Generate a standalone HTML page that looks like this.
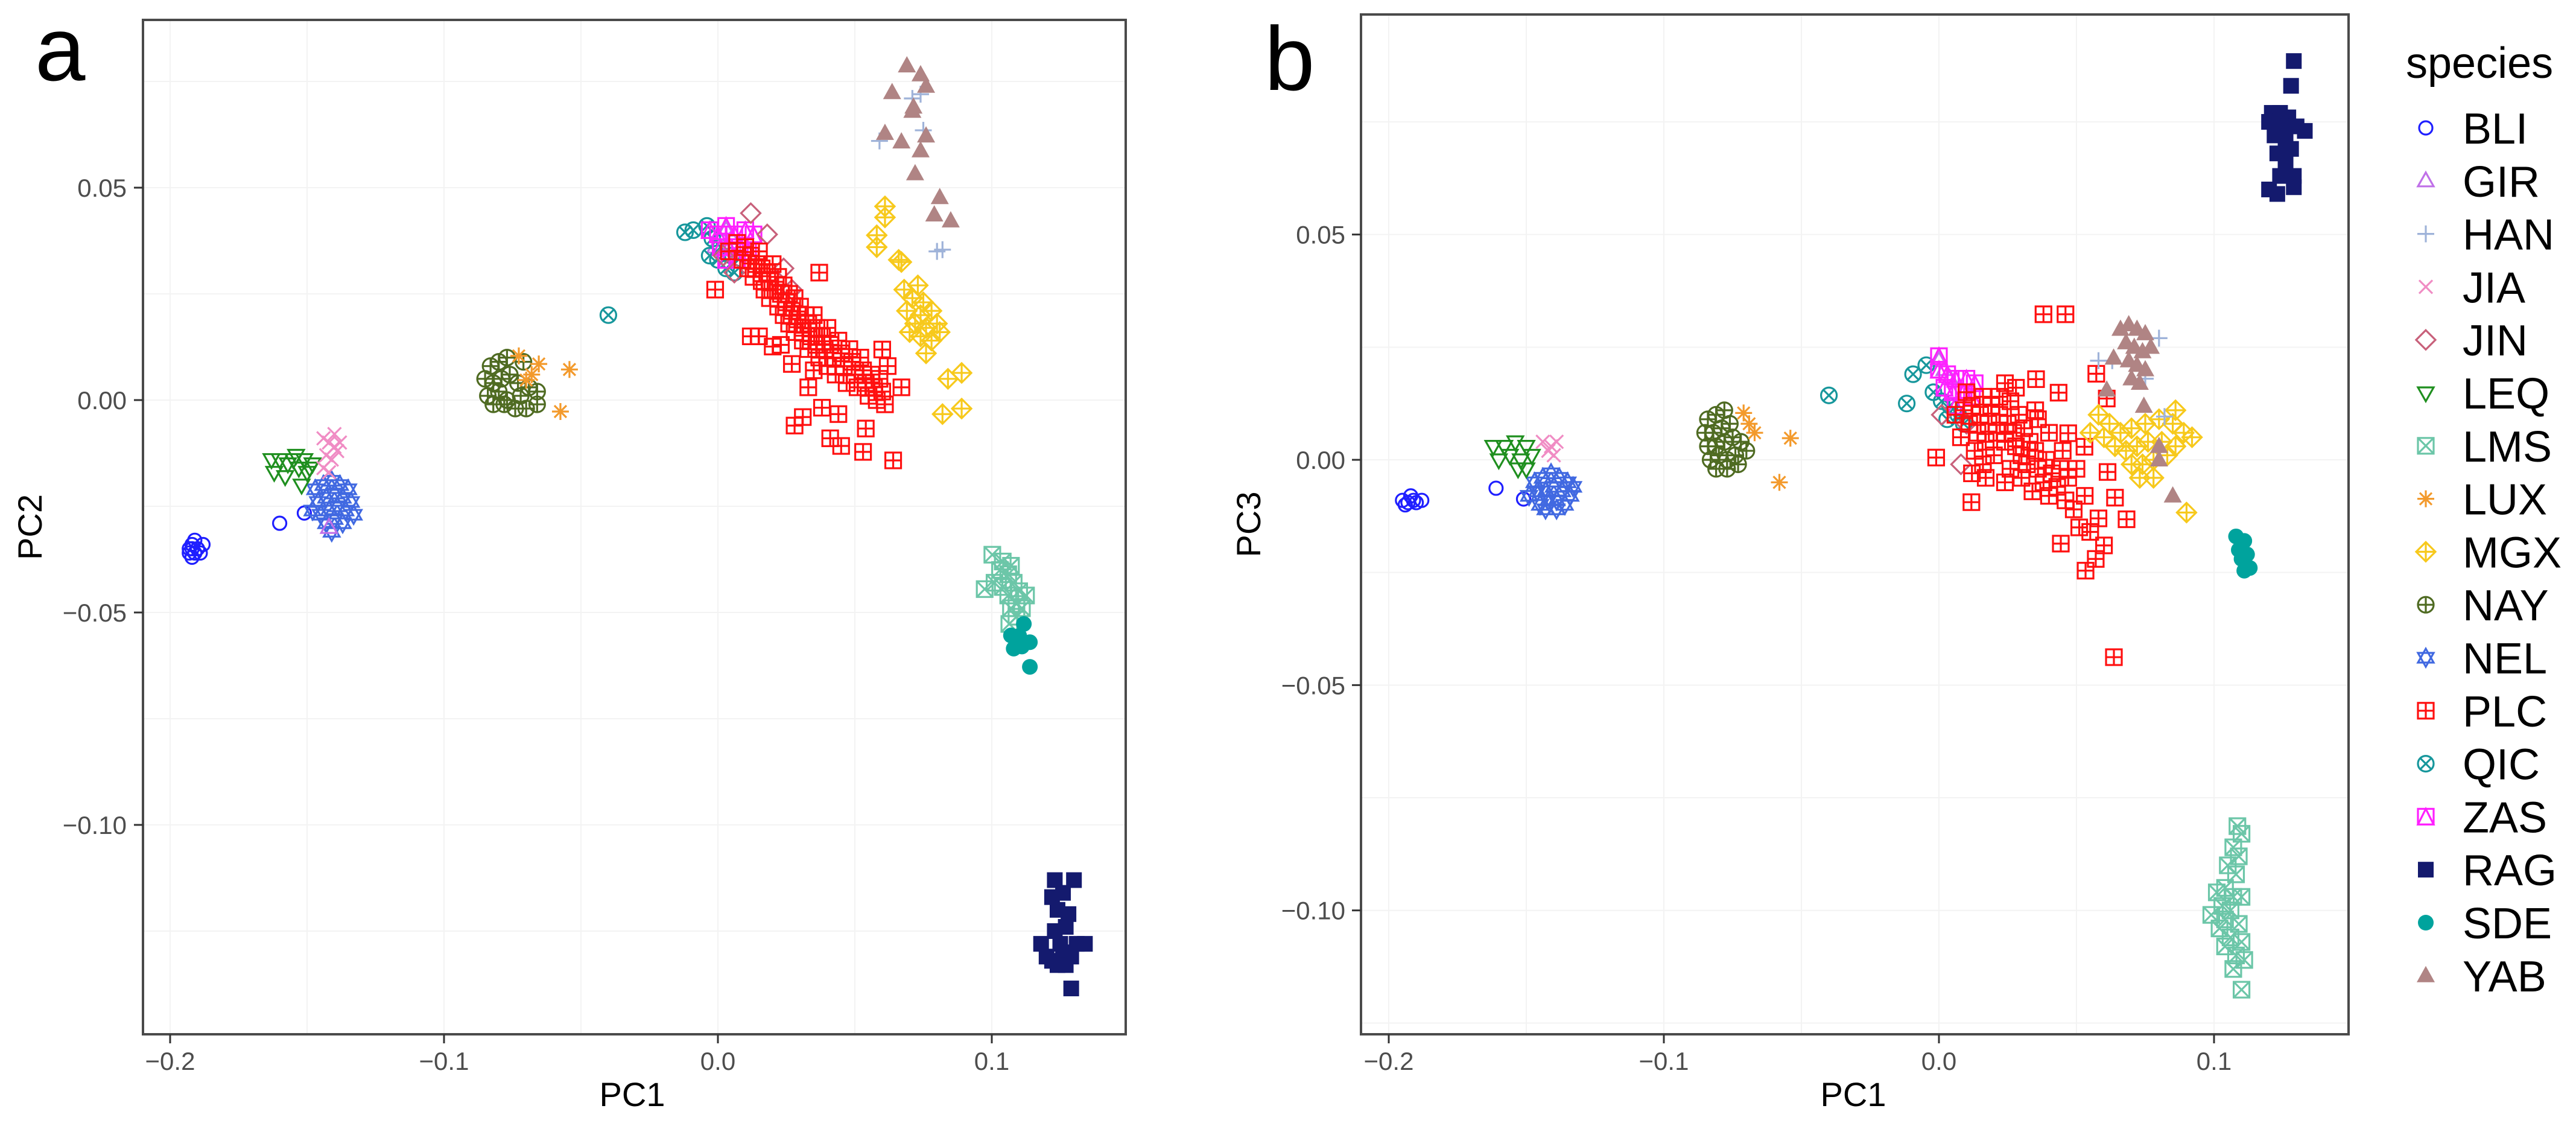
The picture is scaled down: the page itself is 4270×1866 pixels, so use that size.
<!DOCTYPE html>
<html><head><meta charset="utf-8">
<style>
html,body{margin:0;padding:0;background:#fff;}
svg{display:block;}
text{font-family:"Liberation Sans",Arial,sans-serif;}
</style></head>
<body>
<svg id="chart" width="4270" height="1866" viewBox="0 0 4270 1866" xmlns="http://www.w3.org/2000/svg">
<rect x="0" y="0" width="4270" height="1866" fill="#fff"/>
<defs>
<clipPath id="clipA"><rect x="237" y="33" width="1629" height="1681"/></clipPath>
<clipPath id="clipB"><rect x="2256" y="24" width="1637" height="1690"/></clipPath>
</defs>
</svg>
<script>
// ---- data: species / categories ----
const species = ["BLI","GIR","HAN","JIA","JIN","LEQ","LMS","LUX","MGX","NAY","NEL","PLC","QIC","ZAS","RAG","SDE","YAB"];
const speciesShapes = [1,2,3,4,5,6,7,8,9,10,11,12,13,14,15,16,17];
const speciesColors = ["#1f1fff","#c070e8","#9fb3d9","#f08cc4","#c8607a","#1f8f1f","#6cc6a8","#f39a2c","#f7c91c","#4f6b22","#4169e1","#ff1010","#17979c","#ff20ff","#141a6e","#00a39d","#b08484"];
const drawOrder = ["BLI","NEL","LEQ","JIA","GIR","NAY","LUX","QIC","ZAS","JIN","PLC","MGX","HAN","YAB","LMS","SDE","RAG"];

// ---- tick data ----
const xTicks = [-0.2,-0.1,0.0,0.1];
const xTickLabels = ["\u22120.2","\u22120.1","0.0","0.1"];
const yTicks = [0.05,0.0,-0.05,-0.10];
const yTickLabels = ["0.05","0.00","\u22120.05","\u22120.10"];
const xMinor = [-0.15,-0.05,0.05];
const yMinor = [0.075,0.025,-0.025,-0.075,-0.125];

// ---- panel a (PC1 vs PC2) ----
const a_BLI = [[-0.192,-0.034],[-0.193,-0.036],[-0.192,-0.037],[-0.191,-0.033],[-0.190,-0.035],[-0.188,-0.034],[-0.193,-0.035],[-0.191,-0.036],[-0.189,-0.036],[-0.192,-0.035],[-0.160,-0.029],[-0.151,-0.0266]];
const a_GIR = [[-0.142,-0.030],[0.003,0.040],[0.005,0.038],[-0.001,0.036]];
const a_HAN = [[0.059,0.061],[0.075,0.0635],[0.071,0.071],[0.074,0.072],[0.082,0.0354],[0.080,0.035]];
const a_JIA = [[-0.144,-0.009],[-0.142,-0.010],[-0.140,-0.011],[-0.143,-0.013],[-0.141,-0.014],[-0.139,-0.012],[-0.144,-0.016],[-0.142,-0.017],[-0.140,-0.008],[-0.138,-0.010]];
const a_JIN = [[0.012,0.044],[0.018,0.039],[0.024,0.031],[0.006,0.030],[0.027,0.026],[0.002,0.034]];
const a_LEQ = [[-0.163,-0.014],[-0.160,-0.014],[-0.157,-0.015],[-0.154,-0.013],[-0.151,-0.014],[-0.148,-0.015],[-0.162,-0.017],[-0.158,-0.018],[-0.153,-0.016],[-0.150,-0.017],[-0.152,-0.020],[-0.149,-0.016],[-0.155,-0.014]];
const a_LMS = [[0.1002,-0.0364],[0.104,-0.038],[0.107,-0.039],[0.103,-0.040],[0.106,-0.041],[0.0974,-0.0445],[0.101,-0.043],[0.104,-0.044],[0.108,-0.043],[0.110,-0.045],[0.1125,-0.046],[0.106,-0.046],[0.109,-0.048],[0.107,-0.049],[0.111,-0.049],[0.1064,-0.0527],[0.109,-0.051]];
const a_LUX = [[-0.0727,0.0104],[-0.0654,0.0085],[-0.0542,0.0072],[-0.0575,-0.0027],[-0.070,0.0047],[-0.068,0.006]];
const a_MGX = [[0.061,0.0456],[0.061,0.043],[0.058,0.0388],[0.058,0.036],[0.067,0.0325],[0.066,0.033],[0.068,0.026],[0.073,0.027],[0.071,0.024],[0.075,0.023],[0.069,0.021],[0.074,0.020],[0.078,0.021],[0.072,0.018],[0.076,0.017],[0.080,0.018],[0.070,0.016],[0.074,0.015],[0.078,0.014],[0.081,0.016],[0.076,0.011],[0.084,0.005],[0.089,0.0064],[0.082,-0.0033],[0.089,-0.002]];
const a_NAY = [[-0.083,0.008],[-0.080,0.009],[-0.077,0.010],[-0.071,0.009],[-0.085,0.005],[-0.082,0.004],[-0.079,0.005],[-0.076,0.006],[-0.073,0.004],[-0.069,0.003],[-0.066,0.002],[-0.084,0.001],[-0.080,0.002],[-0.077,0.000],[-0.072,0.001],[-0.082,-0.001],[-0.078,-0.001],[-0.074,-0.002],[-0.070,-0.002],[-0.066,-0.001]];
const a_NEL = [[-0.147,-0.021],[-0.144,-0.020],[-0.141,-0.019],[-0.138,-0.020],[-0.135,-0.021],[-0.146,-0.024],[-0.143,-0.023],[-0.140,-0.022],[-0.137,-0.023],[-0.134,-0.024],[-0.145,-0.027],[-0.142,-0.026],[-0.139,-0.025],[-0.136,-0.026],[-0.133,-0.027],[-0.143,-0.029],[-0.140,-0.028],[-0.137,-0.029],[-0.141,-0.031],[-0.148,-0.026]];
const a_PLC = [[-0.001,0.026],[0.004,0.035],[0.007,0.037],[0.009,0.033],[0.010,0.036],[0.011,0.031],[0.012,0.034],[0.013,0.029],[0.014,0.032],[0.015,0.035],[0.016,0.028],[0.016,0.031],[0.017,0.026],[0.018,0.030],[0.019,0.024],[0.019,0.028],[0.020,0.032],[0.021,0.026],[0.022,0.022],[0.022,0.029],[0.023,0.025],[0.024,0.020],[0.024,0.027],[0.025,0.023],[0.026,0.018],[0.026,0.025],[0.027,0.021],[0.028,0.016],[0.028,0.024],[0.029,0.019],[0.030,0.022],[0.031,0.017],[0.031,0.014],[0.032,0.020],[0.033,0.012],[0.033,0.018],[0.034,0.015],[0.035,0.020],[0.036,0.013],[0.036,0.017],[0.037,0.010],[0.038,0.015],[0.039,0.012],[0.040,0.008],[0.040,0.017],[0.041,0.013],[0.042,0.010],[0.043,0.006],[0.044,0.014],[0.045,0.011],[0.046,0.008],[0.047,0.004],[0.048,0.012],[0.049,0.009],[0.050,0.006],[0.051,0.003],[0.052,0.010],[0.053,0.007],[0.054,0.004],[0.055,0.001],[0.056,0.006],[0.057,0.003],[0.058,0.000],[0.059,0.005],[0.060,0.002],[0.061,-0.001],[0.060,0.0119],[0.067,0.003],[0.037,0.030],[0.012,0.015],[0.015,0.015],[0.020,0.0126],[0.023,0.013],[0.027,0.0085],[0.028,-0.006],[0.031,-0.004],[0.038,-0.0018],[0.044,-0.0033],[0.045,-0.0108],[0.041,-0.009],[0.053,-0.0122],[0.054,-0.0067],[0.064,-0.0142],[0.062,0.008],[0.033,0.003],[0.035,0.007]];
const a_QIC = [[-0.040,0.020],[-0.012,0.0395],[-0.009,0.040],[-0.004,0.041],[-0.002,0.038],[0.001,0.036],[0.000,0.033],[0.003,0.031],[0.006,0.030],[-0.003,0.034],[0.005,0.034]];
const a_ZAS = [[-0.003,0.040],[0.000,0.039],[0.003,0.041],[0.006,0.039],[0.010,0.040],[0.013,0.039],[0.001,0.036],[0.004,0.036],[0.008,0.036],[0.011,0.035],[0.003,0.033],[0.007,0.033]];
const a_RAG = [[0.123,-0.113],[0.130,-0.113],[0.122,-0.117],[0.126,-0.116],[0.124,-0.120],[0.128,-0.121],[0.127,-0.124],[0.123,-0.125],[0.118,-0.128],[0.125,-0.128],[0.131,-0.128],[0.134,-0.128],[0.120,-0.131],[0.126,-0.130],[0.129,-0.131],[0.122,-0.132],[0.127,-0.133],[0.124,-0.133],[0.129,-0.1385]];
const a_SDE = [[0.1117,-0.0527],[0.107,-0.0554],[0.110,-0.0555],[0.1139,-0.057],[0.108,-0.0585],[0.111,-0.058],[0.1139,-0.0628]];
const a_YAB = [[0.069,0.0787],[0.074,0.0766],[0.0636,0.0724],[0.0714,0.069],[0.071,0.068],[0.061,0.0628],[0.067,0.0608],[0.076,0.0622],[0.074,0.0587],[0.072,0.0533],[0.081,0.0477],[0.079,0.0436],[0.085,0.0422],[0.076,0.0739]];

// ---- panel b (PC1 vs PC3) ----
const b_BLI = [[-0.195,-0.009],[-0.193,-0.0095],[-0.191,-0.009],[-0.194,-0.010],[-0.192,-0.008],[-0.190,-0.0095],[-0.188,-0.009],[-0.161,-0.0063],[-0.151,-0.0087]];
const b_GIR = [[0.000,0.022],[0.002,0.020],[0.004,0.018]];
const b_HAN = [[0.058,0.022],[0.063,0.022],[0.080,0.027],[0.082,0.0096],[0.075,0.018]];
const b_JIA = [[-0.144,0.004],[-0.141,0.003],[-0.139,0.004],[-0.142,0.002],[-0.140,0.001]];
const b_JIN = [[0.001,0.010],[0.010,0.008],[0.008,-0.001]];
const b_LEQ = [[-0.162,0.003],[-0.158,0.003],[-0.154,0.004],[-0.150,0.003],[-0.160,0.000],[-0.156,0.001],[-0.152,0.000],[-0.148,0.001],[-0.153,-0.002],[-0.150,-0.002]];
const b_LMS = [[0.1085,-0.0813],[0.110,-0.083],[0.107,-0.086],[0.109,-0.088],[0.105,-0.090],[0.108,-0.092],[0.104,-0.095],[0.101,-0.096],[0.107,-0.097],[0.110,-0.097],[0.103,-0.099],[0.106,-0.100],[0.099,-0.101],[0.104,-0.102],[0.109,-0.103],[0.102,-0.104],[0.106,-0.106],[0.110,-0.107],[0.104,-0.108],[0.108,-0.110],[0.111,-0.111],[0.107,-0.113],[0.110,-0.1176]];
const b_LUX = [[-0.071,0.0104],[-0.054,0.0048],[-0.058,-0.005],[-0.069,0.008],[-0.067,0.006]];
const b_MGX = [[0.058,0.010],[0.062,0.008],[0.055,0.006],[0.060,0.005],[0.066,0.006],[0.070,0.007],[0.075,0.008],[0.080,0.009],[0.085,0.008],[0.089,0.006],[0.092,0.005],[0.064,0.003],[0.068,0.002],[0.072,0.003],[0.076,0.004],[0.081,0.004],[0.086,0.003],[0.070,-0.001],[0.074,-0.001],[0.078,0.000],[0.083,0.001],[0.073,-0.004],[0.078,-0.004],[0.090,-0.0117],[0.086,0.011]];
const b_NAY = [[-0.084,0.009],[-0.081,0.010],[-0.078,0.011],[-0.085,0.006],[-0.082,0.006],[-0.079,0.007],[-0.076,0.008],[-0.084,0.003],[-0.081,0.003],[-0.078,0.004],[-0.075,0.005],[-0.072,0.004],[-0.083,0.000],[-0.080,0.001],[-0.077,0.000],[-0.074,0.001],[-0.070,0.002],[-0.081,-0.002],[-0.077,-0.002],[-0.073,-0.001]];
const b_NEL = [[-0.147,-0.005],[-0.144,-0.004],[-0.141,-0.003],[-0.138,-0.004],[-0.135,-0.005],[-0.146,-0.007],[-0.143,-0.007],[-0.140,-0.006],[-0.137,-0.007],[-0.134,-0.008],[-0.145,-0.010],[-0.142,-0.009],[-0.139,-0.009],[-0.136,-0.010],[-0.143,-0.011],[-0.139,-0.011],[-0.149,-0.008],[-0.133,-0.006]];
const b_PLC = [[0.038,0.0323],[0.046,0.0323],[0.0636,-0.0438],[-0.001,0.0005],[0.0118,-0.0094],[0.0353,0.0179],[0.0435,0.0149],[0.0572,0.0191],[0.061,0.0136],[0.047,0.0059],[0.0529,0.0029],[0.0613,-0.0027],[0.0443,-0.0186],[0.0533,-0.0246],[0.0682,-0.0132],[0.064,-0.0084],[0.057,-0.022],[0.060,-0.019],[0.055,-0.016],[0.058,-0.013],[0.051,-0.015],[0.049,-0.011],[0.053,-0.008],[0.046,-0.009],[0.043,-0.006],[0.040,-0.008],[0.047,-0.004],[0.044,-0.002],[0.041,-0.003],[0.038,-0.005],[0.036,-0.002],[0.039,0.000],[0.035,0.002],[0.032,-0.001],[0.033,0.004],[0.030,0.001],[0.031,0.007],[0.028,0.003],[0.027,0.006],[0.029,0.010],[0.025,0.008],[0.024,0.004],[0.022,0.010],[0.021,0.006],[0.020,0.001],[0.019,0.012],[0.018,0.008],[0.017,0.004],[0.016,0.014],[0.015,0.010],[0.014,0.006],[0.013,0.002],[0.012,0.012],[0.011,0.008],[0.010,0.015],[0.009,0.011],[0.008,0.005],[0.006,0.010],[0.026,-0.002],[0.024,-0.005],[0.034,-0.007],[0.030,-0.004],[0.022,0.014],[0.026,0.013],[0.036,0.009],[0.040,0.006],[0.050,-0.002],[0.045,0.002],[0.024,0.017],[0.035,0.011],[0.028,0.016],[0.012,-0.003],[0.016,-0.001],[0.017,-0.004]];
const b_QIC = [[-0.040,0.0143],[-0.0117,0.0125],[-0.0094,0.019],[-0.0046,0.021],[-0.002,0.015],[0.001,0.013],[0.004,0.012],[0.007,0.010],[0.003,0.009],[0.009,0.008]];
const b_ZAS = [[0.000,0.023],[0.000,0.020],[0.003,0.019],[0.006,0.018],[0.010,0.018],[0.013,0.017],[0.002,0.016],[0.005,0.015],[0.009,0.015],[0.012,0.014],[0.006,0.012]];
const b_RAG = [[0.129,0.0885],[0.128,0.083],[0.121,0.077],[0.124,0.077],[0.127,0.076],[0.120,0.075],[0.125,0.074],[0.130,0.074],[0.133,0.073],[0.122,0.072],[0.126,0.071],[0.128,0.069],[0.123,0.068],[0.126,0.066],[0.124,0.063],[0.129,0.063],[0.120,0.060],[0.123,0.059],[0.129,0.0605]];
const b_SDE = [[0.108,-0.017],[0.111,-0.018],[0.109,-0.020],[0.112,-0.021],[0.110,-0.022],[0.113,-0.024],[0.111,-0.0246]];
const b_YAB = [[0.066,0.029],[0.069,0.030],[0.072,0.029],[0.075,0.028],[0.068,0.026],[0.071,0.025],[0.074,0.024],[0.077,0.025],[0.069,0.022],[0.072,0.021],[0.075,0.020],[0.070,0.018],[0.073,0.017],[0.0635,0.0226],[0.061,0.0155],[0.0745,0.0119],[0.080,0.003],[0.080,0.000],[0.085,-0.008]];

const panelAData = {BLI:a_BLI,GIR:a_GIR,HAN:a_HAN,JIA:a_JIA,JIN:a_JIN,LEQ:a_LEQ,LMS:a_LMS,LUX:a_LUX,MGX:a_MGX,NAY:a_NAY,NEL:a_NEL,PLC:a_PLC,QIC:a_QIC,ZAS:a_ZAS,RAG:a_RAG,SDE:a_SDE,YAB:a_YAB};
const panelBData = {BLI:b_BLI,GIR:b_GIR,HAN:b_HAN,JIA:b_JIA,JIN:b_JIN,LEQ:b_LEQ,LMS:b_LMS,LUX:b_LUX,MGX:b_MGX,NAY:b_NAY,NEL:b_NEL,PLC:b_PLC,QIC:b_QIC,ZAS:b_ZAS,RAG:b_RAG,SDE:b_SDE,YAB:b_YAB};

const NS = "http://www.w3.org/2000/svg";
const svg = document.getElementById("chart");
function mk(tag, attrs, parent){
  const e = document.createElementNS(NS, tag);
  for (const k in attrs) e.setAttribute(k, attrs[k]);
  (parent||svg).appendChild(e);
  return e;
}

// marker drawing (ggplot shapes 1-17)
function marker(parent, shape, cx, cy, col){
  const g = mk("g", {}, parent);
  const h = 13, sw = 3.2;
  const st = {fill:"none", stroke:col, "stroke-width":sw};
  const line = (x1,y1,x2,y2)=>mk("line",Object.assign({x1:cx+x1,y1:cy+y1,x2:cx+x2,y2:cy+y2},st),g);
  const poly = (pts,fill)=>mk("polygon",Object.assign({},st,{points:pts.map(p=>(cx+p[0])+","+(cy+p[1])).join(" ")},fill?{fill:col}:{}),g);
  switch(shape){
    case 1: mk("circle",Object.assign({cx,cy,r:11},st),g); break;
    case 2: poly([[0,-14],[13,9],[-13,9]]); break;
    case 3: line(-14,0,14,0); line(0,-14,0,14); break;
    case 4: line(-11,-11,11,11); line(-11,11,11,-11); break;
    case 5: poly([[0,-16],[16,0],[0,16],[-16,0]]); break;
    case 6: poly([[0,14],[13,-9],[-13,-9]]); break;
    case 7: mk("rect",Object.assign({x:cx-h,y:cy-h,width:2*h,height:2*h},st),g); line(-h,-h,h,h); line(-h,h,h,-h); break;
    case 8: line(-14,0,14,0); line(0,-14,0,14); line(-10,-10,10,10); line(-10,10,10,-10); break;
    case 9: poly([[0,-16],[16,0],[0,16],[-16,0]]); line(-16,0,16,0); line(0,-16,0,16); break;
    case 10: mk("circle",Object.assign({cx,cy,r:13},st),g); line(-13,0,13,0); line(0,-13,0,13); break;
    case 11: poly([[0,-15],[13,8],[-13,8]]); poly([[0,15],[13,-8],[-13,-8]]); break;
    case 12: mk("rect",Object.assign({x:cx-h,y:cy-h,width:2*h,height:2*h},st),g); line(-h,0,h,0); line(0,-h,0,h); break;
    case 13: mk("circle",Object.assign({cx,cy,r:13},st),g); line(-9,-9,9,9); line(-9,9,9,-9); break;
    case 14: mk("rect",Object.assign({x:cx-h,y:cy-h,width:2*h,height:2*h},st),g); poly([[0,-h],[h,h],[-h,h]]); break;
    case 15: mk("rect",{x:cx-13,y:cy-13,width:26,height:26,fill:col},g); break;
    case 16: mk("circle",{cx,cy,r:13,fill:col},g); break;
    case 17: mk("polygon",{points:`${cx},${cy-16} ${cx+15},${cy+11} ${cx-15},${cy+11}`,fill:col},g); break;
  }
  return g;
}

function panel(opts){
  const {name,L,T,R,B,sx,sy,data,clip,ytitle,letter,lx,ly,yLabelRight,titleX} = opts;
  const pg = mk("g",{});
  
  
  // grid
  const grid = mk("g",{},pg);
  
  
  xMinor.concat(xTicks).forEach(v=>{const x=sx(v); if(x>L&&x<R) mk("line",{x1:x,y1:T,x2:x,y2:B,stroke:"#f3f3f3","stroke-width":2},grid);});
  yMinor.concat(yTicks).forEach(v=>{const y=sy(v); if(y>T&&y<B) mk("line",{x1:L,y1:y,x2:R,y2:y,stroke:"#f3f3f3","stroke-width":2},grid);});
  // points
  const pts = mk("g",{"clip-path":`url(#${clip})`},pg);
  
  
  drawOrder.forEach(sp=>{
    const i = species.indexOf(sp);
    const sg = mk("g",{},pts);
    
    
    data[sp].forEach(d=>{
      const m = marker(sg, speciesShapes[i], sx(d[0]), sy(d[1]), speciesColors[i]);
      
      
    });
  });
  // frame
  const fr = mk("rect",{x:L,y:T,width:R-L,height:B-T,fill:"none",stroke:"#4a4a4a","stroke-width":4},pg);
  
  
  // x ticks
  const xa = mk("g",{},pg);
  
  
  xTicks.forEach((v,i)=>{
    const x = sx(v);
    mk("line",{x1:x,y1:B,x2:x,y2:B+15,stroke:"#333","stroke-width":3},xa);
    const t = mk("text",{x:x,y:1773,"text-anchor":"middle","font-size":42,fill:"#4d4d4d"},xa);
    t.textContent = xTickLabels[i];
    
    
  });
  const xt = mk("text",{x:titleX,y:1833,"text-anchor":"middle","font-size":56,fill:"#000"},pg);
  xt.textContent = "PC1";
  
  
  // y ticks
  const ya = mk("g",{},pg);
  
  
  yTicks.forEach((v,i)=>{
    const y = sy(v);
    mk("line",{x1:L-15,y1:y,x2:L,y2:y,stroke:"#333","stroke-width":3},ya);
    const t = mk("text",{x:yLabelRight,y:y+15,"text-anchor":"end","font-size":42,fill:"#4d4d4d"},ya);
    t.textContent = yTickLabels[i];
    
    
  });
  const cyT = (T+B)/2;
  const yt = mk("text",{x:ytitle.x,y:cyT,"text-anchor":"middle","font-size":56,fill:"#000",transform:`rotate(-90 ${ytitle.x} ${cyT}) translate(0 20)`},pg);
  yt.textContent = ytitle.text;
  
  
  const lt = mk("text",{x:lx,y:ly,"font-size":150,fill:"#000"},pg);
  lt.textContent = letter;
  
  
}

panel({name:"panel-a",L:237,T:33,R:1866,B:1714,
  sx:v=>1190+v*4540, sy:v=>663-v*7040, data:panelAData, clip:"clipA",
  ytitle:{x:49,text:"PC2"}, letter:"a", lx:58, ly:133, yLabelRight:210, titleX:1048});
panel({name:"panel-b",L:2256,T:24,R:3893,B:1714,
  sx:v=>3214+v*4560, sy:v=>762-v*7467, data:panelBData, clip:"clipB",
  ytitle:{x:2069,text:"PC3"}, letter:"b", lx:2096, ly:149, yLabelRight:2230, titleX:3072});

// legend
const lg = mk("g",{});


const lt = mk("text",{x:3988,y:129,"font-size":72,fill:"#000"},lg);
lt.textContent = "species";


species.forEach((sp,i)=>{
  const cy = 212 + i*87.8;
  const eg = mk("g",{},lg);
  
  
  marker(eg, speciesShapes[i], 4021, cy, speciesColors[i]);
  const t = mk("text",{x:4082,y:cy+26,"font-size":72,fill:"#000"},eg);
  t.textContent = sp;
  
  
});
</script>
</body></html>
